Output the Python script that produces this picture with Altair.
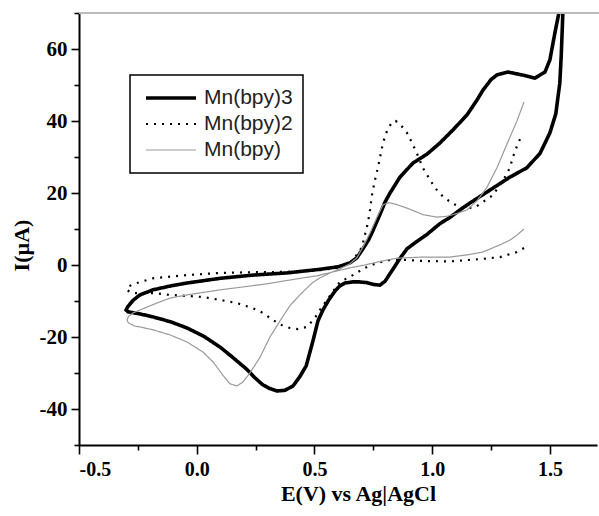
import altair as alt
import pandas as pd

# ---- data (E in V vs Ag|AgCl, I in µA), in scan order ----
series_names = ["Mn(bpy)3", "Mn(bpy)2", "Mn(bpy)"]

mn3_E = [1.558, 1.555, 1.548, 1.542, 1.525, 1.500, 1.458, 1.402, 1.330, 1.245, 1.160, 1.118,
         1.075, 1.033, 0.978, 0.930, 0.893, 0.863, 0.840, 0.820, 0.800, 0.778, 0.750, 0.723,
         0.690, 0.663, 0.630, 0.608, 0.590, 0.579, 0.560, 0.536, 0.515, 0.494, 0.465, 0.438,
         0.409, 0.375, 0.341, 0.310, 0.281, 0.245, 0.213, 0.150, 0.099, 0.030, -0.041, -0.110,
         -0.186, -0.240, -0.292, -0.300, -0.292, -0.270, -0.241, -0.186, -0.110, -0.041, 0.099,
         0.239, 0.383, 0.523, 0.600, 0.651, 0.680, 0.706, 0.730, 0.748, 0.778, 0.800, 0.821,
         0.863, 0.918, 0.978, 1.033, 1.088, 1.148, 1.190, 1.215, 1.250, 1.275, 1.322, 1.381,
         1.436, 1.479, 1.500, 1.521, 1.538, 1.545]
mn3_I = [80, 70, 58, 50.5, 42, 36.7, 31, 27, 24.4, 20.8, 17.2, 15.3,
         13.2, 11.5, 8.5, 6.3, 4.5, 1.8, -0.5, -2.5, -4.5, -5.6, -5.4, -4.9,
         -4.7, -4.7, -5.0, -5.8, -7, -8, -9.8, -12.5, -15.5, -21, -28, -31,
         -33.6, -34.8, -35, -34.3, -33.3, -31.2, -29, -25.5, -22.8, -19.8, -17.5, -15.8,
         -14.4, -13.6, -13, -12.5, -11.5, -9.8, -8.3, -6.9, -5.8, -5, -3.7,
         -2.8, -2.2, -1.2, -0.5, 0.6, 2, 4.5, 7, 9.5, 14, 17.5, 20,
         24.4, 28.3, 30.8, 33.9, 37.5, 41.7, 45.8, 48.5, 51.5, 52.8, 53.6, 52.8,
         51.9, 53.6, 57, 64.4, 70, 80]

mn2_E = [1.390, 1.360, 1.288, 1.215, 1.075, 0.961, 0.893, 0.821, 0.766, 0.714, 0.651, 0.608,
         0.553, 0.523, 0.502, 0.468, 0.430, 0.396, 0.366, 0.324, 0.281, 0.239, 0.171, 0.099,
         0.027, -0.041, -0.114, -0.186, -0.275, -0.296, -0.292, -0.254, -0.186, -0.041, 0.099,
         0.239, 0.383, 0.523, 0.600, 0.651, 0.663, 0.685, 0.702, 0.714, 0.727, 0.736, 0.744,
         0.757, 0.770, 0.791, 0.808, 0.829, 0.845, 0.863, 0.893, 0.914, 0.935, 0.961, 1.012,
         1.046, 1.084, 1.118, 1.148, 1.182, 1.215, 1.258, 1.309, 1.330, 1.343, 1.360, 1.373]
mn2_I = [4.7, 3.6, 2.2, 1.7, 1.0, 1.1, 1.4, 1.4, 0.6, -0.8, -3.3, -4.7,
         -9.7, -12.5, -14.7, -17.2, -17.8, -17.5, -16.9, -15.3, -13.3, -12, -10.6, -9.7,
         -8.9, -8.6, -8.3, -7.8, -7.8, -7, -6, -5, -3.7, -2.8, -2.2,
         -2, -1.9, -1.4, -0.8, 0.5, 1.4, 3.3, 5, 8.3, 11.7, 15.3, 19.4,
         23.6, 27.2, 33.9, 37.2, 39.7, 40, 39.2, 36.7, 34, 31, 26.9, 21.4,
         19, 17.2, 16.1, 15.8, 16, 17.5, 19.4, 24.4, 27, 30, 33, 35]

mn1_E = [1.390, 1.360, 1.330, 1.288, 1.215, 1.148, 1.075, 0.960, 0.850, 0.766, 0.714, 0.651,
         0.579, 0.511, 0.440, 0.383, 0.300, 0.232, 0.099, -0.041, -0.114, -0.186, -0.241,
         -0.270, -0.290, -0.296, -0.290, -0.262, -0.241, -0.186, -0.114, -0.041, 0.027, 0.069,
         0.111, 0.141, 0.171, 0.196, 0.226, 0.269, 0.311, 0.354, 0.396, 0.438, 0.466, 0.494,
         0.523, 0.566, 0.610, 0.650, 0.680, 0.706, 0.736, 0.766, 0.791, 0.815, 0.840, 0.893,
         0.961, 1.020, 1.060, 1.100, 1.148, 1.190, 1.232, 1.275, 1.317, 1.360, 1.390]
mn1_I = [10, 8.3, 6.9, 5.6, 3.6, 2.8, 2.2, 2.2, 1.9, 0.8, 0, -0.8,
         -1.9, -3, -3.7, -4.3, -5.2, -5.8, -6.9, -8.3, -9.2, -11, -12.5,
         -13.3, -14.3, -15.3, -16.1, -17, -17.2, -18, -19.4, -21.4, -24.2, -26.9,
         -30.6, -33, -33.6, -32.5, -30, -25.6, -20, -15.5, -11.3, -8.3, -6.5, -4.8,
         -3.6, -2.2, -1.0, 0.3, 2, 5, 8.9, 13.3, 16.7, 17.3, 17, 15.8,
         14, 13.3, 13.5, 14.2, 15.3, 17.8, 21.5, 27, 33.5, 40, 45.3]

x_ticks = [-0.5, -0.25, 0.0, 0.25, 0.5, 0.75, 1.0, 1.25, 1.5]
y_ticks = [-50, -40, -30, -20, -10, 0, 10, 20, 30, 40, 50, 60, 70]

rows = []
for name, es, is_ in zip(series_names, [mn3_E, mn2_E, mn1_E], [mn3_I, mn2_I, mn1_I]):
    for k, (e, i) in enumerate(zip(es, is_)):
        rows.append({"series": name, "E": e, "I": i, "k": k})
df = pd.DataFrame(rows)

serif = "Liberation Serif"

x_axis = alt.Axis(
    values=x_ticks,
    labelExpr="datum.value % 0.5 == 0 ? (datum.value < 0 ? '-' + format(abs(datum.value), '.1f') : format(datum.value, '.1f')) : ''",
    tickSize={"condition": {"test": "datum.value % 0.5 == 0", "value": 9}, "value": 5},
    labelPadding=5,
    grid=False,
    domainColor="black", domainWidth=2, tickColor="black", tickWidth=1.6,
    labelFont=serif, labelFontWeight="bold", labelFontSize=20, labelColor="black",
    title="E(V) vs Ag|AgCl",
    titleFont=serif, titleFontWeight="bold", titleFontSize=22, titleColor="black",
    titleX=279, titleY=55, titleAlign="center", titleBaseline="alphabetic",
)
y_axis = alt.Axis(
    values=y_ticks,
    labelExpr="datum.value % 20 == 0 ? (datum.value < 0 ? '-' + format(abs(datum.value), 'd') : format(datum.value, 'd')) : ''",
    tickSize={"condition": {"test": "datum.value % 20 == 0", "value": 8}, "value": 5},
    labelPadding=4,
    grid=False,
    domainColor="black", domainWidth=2, tickColor="black", tickWidth=1.6,
    labelFont=serif, labelFontWeight="bold", labelFontSize=21, labelColor="black",
    title="I(µA)",
    titleFont=serif, titleFontWeight="bold", titleFontSize=22, titleColor="black",
    titleX=-51, titleY=232, titleAlign="center", titleBaseline="alphabetic", titleAngle=270,
)

legend = alt.Legend(
    title=None, orient="none", legendX=51, legendY=62,
    symbolType="stroke", symbolSize=2500, symbolOffset=4, clipHeight=26,
    labelFont="Liberation Sans", labelFontSize=21, labelColor="#222222", labelOffset=6,
    strokeColor="black", padding=10, rowPadding=0,
)

lines = alt.Chart(df).mark_line(clip=True, strokeCap="butt").encode(
    x=alt.X("E:Q", scale=alt.Scale(domain=[-0.5, 1.7], nice=False, zero=False), axis=x_axis),
    y=alt.Y("I:Q", scale=alt.Scale(domain=[-50, 70], nice=False, zero=False), axis=y_axis),
    color=alt.Color("series:N", scale=alt.Scale(domain=series_names, range=["black", "black", "#9a9a9a"]), legend=legend),
    strokeDash=alt.StrokeDash("series:N", scale=alt.Scale(domain=series_names, range=[[1, 0], [2, 6], [1, 0]]), legend=legend),
    strokeWidth=alt.StrokeWidth("series:N", scale=alt.Scale(type="ordinal", domain=series_names, range=[3.6, 2.2, 1.2]), legend=legend),
    detail="series:N",
    order=alt.Order("k:Q"),
)

top_rule = alt.Chart(pd.DataFrame({"a": [0]})).mark_rule(color="#bbbbbb", strokeWidth=2).encode(
    x=alt.value(0), x2=alt.value(522), y=alt.value(0)
)

chart = (
    alt.layer(lines, top_rule)
    .properties(
        width=518, height=432,
        padding={"left": 79, "top": 13, "right": 2, "bottom": 71},
        autosize=alt.AutoSizeParams(type="none"),
    )
    .configure_view(stroke=None)
    .configure_legend(strokeWidth=1.5)
)

chart.save("out.html", embed_options={"renderer": "svg", "actions": False})
